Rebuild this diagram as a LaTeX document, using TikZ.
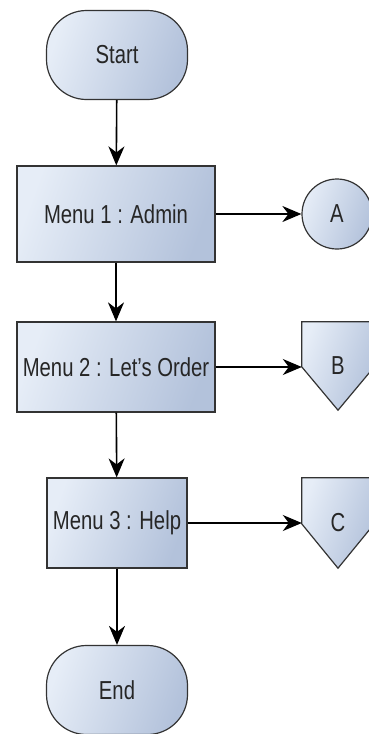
\documentclass[tikz,border=0pt]{standalone}
\usepackage{fontspec}
\setmainfont{Liberation Sans}[FakeStretch=0.78]
\usepackage{tikz}
\usetikzlibrary{arrows.meta,calc}

\definecolor{boxlight}{HTML}{E6EDF7}
\definecolor{boxdark}{HTML}{B3C2DB}
\definecolor{edgegrey}{HTML}{333333}

\tikzset{
  flowfill/.style={draw=edgegrey, line width=1.2pt, left color=boxlight, right color=boxdark, shading angle=70},
  terminal/.style={flowfill, rectangle, rounded corners=40pt, minimum width=141pt, minimum height=89pt},
  menubox/.style={flowfill, rectangle, inner sep=0pt, minimum height=96pt},
  flowarrow/.style={-{Stealth[length=19pt, width=16pt, inset=6pt]}, line width=1.6pt, black},
  flowtext/.style={font=\fontsize{26}{30}\selectfont, text=black!85}
}

\begin{document}
\begin{tikzpicture}[x=1pt, y=-1pt]
    \useasboundingbox (0,0) rectangle (368,734);
    % main column
    \node[terminal, flowtext] (start) at (117,55) {Start};
    \node[menubox, flowtext, minimum width=198pt] (menu1) at (116,214) {Menu 1 : Admin};
    \node[menubox, flowtext, minimum width=198pt, minimum height=90pt] (menu2) at (116,367) {Menu 2 : Let's Order};
    \node[menubox, flowtext, minimum width=140pt, minimum height=90pt] (menu3) at (117,523) {Menu 3 : Help};
    \node[terminal, flowtext] (end) at (117,690) {End};
    % connectors on the right
    \node[flowfill, circle, minimum size=70pt, flowtext] (a) at (337,214) {A};
    \node[rectangle, minimum width=72pt, minimum height=88pt] (b) at (338,366) {};
    \node[rectangle, minimum width=72pt, minimum height=90pt] (c) at (338,523) {};
    \foreach \p in {b,c} {
        \path[flowfill] (\p.north west) -- (\p.north east)
            -- ($(\p.north east)!0.51!(\p.south east)$) -- (\p.south)
            -- ($(\p.north west)!0.51!(\p.south west)$) -- cycle;
    }
    \node[flowtext] (blabel) at (b.center) {B};
    \node[flowtext] (clabel) at (c.center) {C};
    % arrows
    \draw[flowarrow] (start) -- (menu1);
    \draw[flowarrow] (menu1) -- (menu2);
    \draw[flowarrow] (menu2) -- (menu3);
    \draw[flowarrow] (menu3) -- (end);
    \draw[flowarrow] (menu1) -- (a);
    \draw[flowarrow] (menu2.east) -- (menu2.east -| b.west);
    \draw[flowarrow] (menu3.east) -- (menu3.east -| c.west);
\end{tikzpicture}
\end{document}
